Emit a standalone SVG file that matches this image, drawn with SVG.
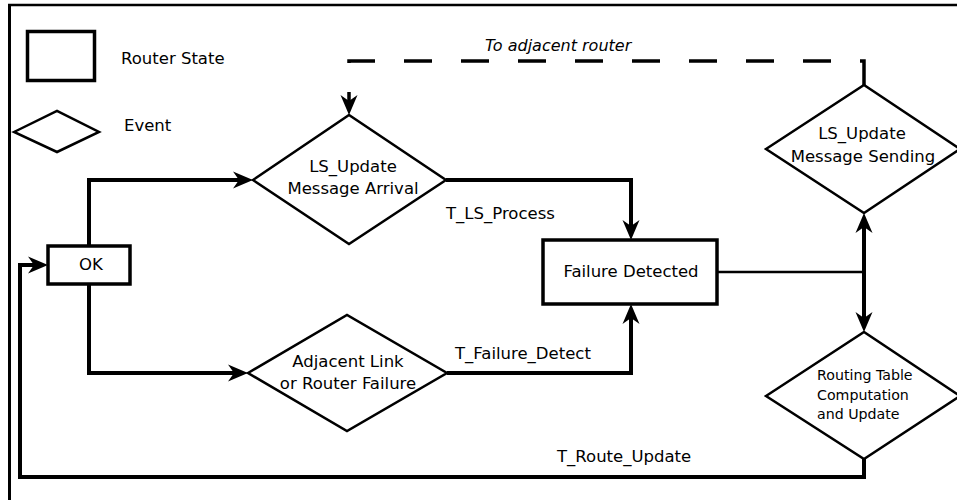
<svg xmlns="http://www.w3.org/2000/svg" width="957" height="500" viewBox="0 0 957 500">
  <style>
    text { font-family: "DejaVu Sans", "Liberation Sans", sans-serif; font-size: 16.5px; fill: #000; }
    .mid { text-anchor: middle; }
    .small { font-size: 14.2px; }
    .ital { font-style: italic; font-size: 16px; }
    .state { fill: #fff; stroke: #000; stroke-width: 3.5; }
    .event { fill: #fff; stroke: #000; stroke-width: 2.5; stroke-linejoin: miter; }
    .conn { fill: none; stroke: #000; stroke-width: 4; stroke-linejoin: miter; }
    .thin { fill: none; stroke: #000; stroke-width: 2.5; }
    .dash { fill: none; stroke: #000; stroke-width: 3.5; stroke-dasharray: 28 29; }
    .frame { fill: none; stroke: #000; }
  </style>
  <defs>
    <marker id="arrow" viewBox="-8 -10 24 20" markerWidth="24" markerHeight="20" refX="0" refY="0" markerUnits="userSpaceOnUse" orient="auto">
      <path d="M14,0 L-6,-8.5 L0,0 L-6,8.5 Z" fill="#000"/>
    </marker>
  </defs>
  <rect width="957" height="500" fill="#fff"/>

  <g id="frame">
    <line class="frame" x1="8" y1="5" x2="957" y2="5" stroke-width="2.5"/>
    <line class="frame" x1="9.5" y1="4" x2="9.5" y2="500" stroke-width="3"/>
  </g>

  <g id="legend">
    <rect class="state" x="27.5" y="31.5" width="67" height="49" stroke-width="4"/>
    <text x="121" y="64">Router State</text>
    <polygon class="event" points="14,132 57,111 99,132 57,152"/>
    <text x="124" y="131">Event</text>
  </g>

  <g id="connectors">
    <path class="conn" d="M89,246 V180 H239" marker-end="url(#arrow)"/>
    <path class="conn" d="M89,284 V373 H234" marker-end="url(#arrow)"/>
    <path class="conn" d="M446,180 H631 V226" marker-end="url(#arrow)"/>
    <path class="conn" d="M447,373 H631 V318" marker-end="url(#arrow)"/>
    <path class="thin" d="M717,272 H864"/>
    <path class="conn" d="M864,272 V227" marker-end="url(#arrow)"/>
    <path class="conn" d="M864,270 V318" marker-end="url(#arrow)"/>
    <path class="conn" d="M864,459 V477 H20 V265 H34" marker-end="url(#arrow)"/>
    <path class="dash" d="M864,85 V61 H349 V101" marker-end="url(#arrow)"/>
    <text class="ital" x="485" y="51">To adjacent router</text>
    <text x="446" y="219">T_LS_Process</text>
    <text x="455" y="359">T_Failure_Detect</text>
    <text x="557" y="462">T_Route_Update</text>
  </g>

  <g id="ok">
    <rect class="state" x="48" y="246" width="82" height="38"/>
    <text class="mid" x="91" y="270">OK</text>
  </g>

  <g id="ls-arrival">
    <polygon class="event" points="253,180 349,115 446,180 349,244"/>
    <text class="mid" x="353" y="172">LS_Update</text>
    <text class="mid" x="353" y="194">Message Arrival</text>
  </g>

  <g id="link-failure">
    <polygon class="event" points="248,373 347,315 447,373 347,431"/>
    <text class="mid" x="348" y="367">Adjacent Link</text>
    <text class="mid" x="348" y="389">or Router Failure</text>
  </g>

  <g id="failure-detected">
    <rect class="state" x="543" y="240" width="174" height="64" stroke-width="4"/>
    <text class="mid" x="631" y="277">Failure Detected</text>
  </g>

  <g id="ls-sending">
    <polygon class="event" points="766,149 864,85 960,149 864,213"/>
    <text class="mid" x="862" y="139">LS_Update</text>
    <text class="mid" x="863" y="162">Message Sending</text>
  </g>

  <g id="routing-update">
    <polygon class="event" points="766,396 864,332 960,396 864,459"/>
    <text class="small" x="817" y="380">Routing Table</text>
    <text class="small" x="817" y="400">Computation</text>
    <text class="small" x="817" y="419">and Update</text>
  </g>
</svg>
